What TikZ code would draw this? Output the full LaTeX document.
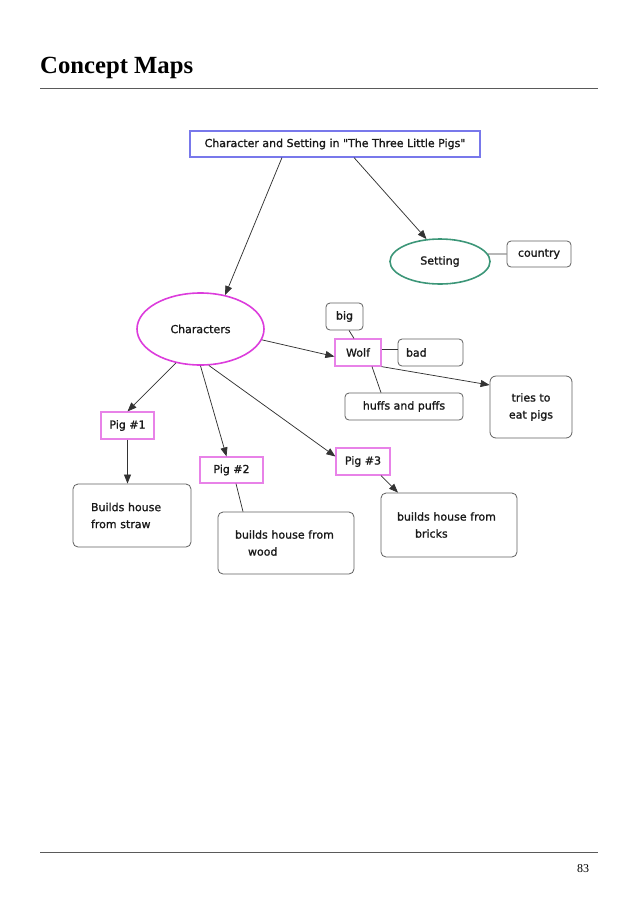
\documentclass[tikz,border=0pt]{standalone}
\usepackage{fontspec}
\setmainfont{Liberation Serif}
\newfontfamily\diagfont[FakeBold=1.2]{DejaVu Sans}
\usetikzlibrary{arrows.meta,shapes.geometric}
\definecolor{topblue}{RGB}{120,120,235}
\definecolor{setgreen}{RGB}{60,150,120}
\definecolor{charmag}{RGB}{220,60,220}
\definecolor{pigpink}{RGB}{232,130,232}
\definecolor{boxgray}{RGB}{95,95,95}
\definecolor{rulegray}{RGB}{90,90,90}
\definecolor{textdark}{RGB}{25,25,25}
\begin{document}
\begin{tikzpicture}[x=1pt,y=-1pt,
  dfont/.style={font=\diagfont\fontsize{11}{17}\selectfont, text=textdark},
  conn/.style={draw=black!80, line width=0.75pt},
  arr/.style={conn, -{Triangle[length=9pt,width=7pt]}},
  rbox/.style={dfont, draw=boxgray, line width=0.8pt, rounded corners=4pt, inner sep=0pt, align=center},
  lbox/.style={dfont, draw=boxgray, line width=0.8pt, rounded corners=5pt, inner ysep=0pt, align=left},
  pbox/.style={dfont, draw=pigpink, line width=1.2pt, inner sep=0pt, align=center},
  rulestyle/.style={draw=rulegray, line width=0.9pt}
]
\useasboundingbox (0,0) rectangle (638,903);
% page furniture
\node[anchor=base west, inner sep=0pt, font=\bfseries\fontsize{24.7}{28}\selectfont] (title) at (40,73) {Concept Maps};
\coordinate (r1a) at (40,88);
\coordinate (r1b) at (598,88);
\draw[rulestyle] (r1a) -- (r1b);
\coordinate (r2a) at (40,852);
\coordinate (r2b) at (598,852);
\draw[rulestyle] (r2a) -- (r2b);
\node[anchor=base, inner sep=0pt, font=\fontsize{12}{14}\selectfont] (pagenum) at (583,872) {83};

% diagram nodes
\node[dfont, draw=topblue, line width=1.1pt, minimum width=290pt, minimum height=26pt, inner sep=0pt] (top) at (335,144) {Character and Setting in "The Three Little Pigs"};
\node[dfont, ellipse, draw=setgreen, line width=1.6pt, minimum width=100pt, minimum height=45pt, inner sep=0pt] (setting) at (440,261.5) {Setting};
\node[rbox, minimum width=64pt, minimum height=26pt] (country) at (539,254) {country};
\node[dfont, ellipse, draw=charmag, line width=1.6pt, minimum width=127pt, minimum height=72pt, inner sep=0pt] (char) at (200.5,329) {Characters};

\node[rbox, minimum width=37pt, minimum height=27pt] (big) at (344.5,316.5) {big};
\node[pbox, minimum width=46pt, minimum height=27pt] (wolf) at (358,352.5) {Wolf};
\node[rbox, minimum width=65pt, minimum height=27pt, text width=49pt, align=left] (bad) at (430.5,352.5) {bad};
\node[rbox, minimum width=118pt, minimum height=27pt] (huffs) at (404,406.5) {huffs and puffs};
\node[rbox, minimum width=82pt, minimum height=62pt, rounded corners=6pt] (tries) at (531,407) {tries to\\eat pigs};

\node[pbox, minimum width=53pt, minimum height=27pt] (pig1) at (127.5,425.5) {Pig \#1};
\node[pbox, minimum width=63pt, minimum height=26pt] (pig2) at (231.5,470) {Pig \#2};
\node[pbox, minimum width=54pt, minimum height=27pt] (pig3) at (363,461.5) {Pig \#3};

\node[lbox, inner xsep=18pt, text width=82pt, minimum height=63pt] (straw) at (132,515.5) {Builds house\\from straw};
\node[lbox, inner xsep=17pt, text width=102pt, minimum height=62pt] (wood) at (286,543) {builds house from\\\hspace*{13pt}wood};
\node[lbox, inner xsep=16pt, text width=104pt, minimum height=64pt] (bricks) at (449,525) {builds house from\\\hspace*{18pt}bricks};

% connectors
\draw[arr] ([xshift=-53pt]top.south) -- (char.54);
\draw[arr] ([xshift=19pt]top.south) -- (setting.121);
\draw[conn] (setting.9) -- (country.west);

\draw[arr] (char.-10) -- ([yshift=-4pt]wolf.west);
\draw[conn] ([xshift=4.5pt]big.south) -- ([xshift=-4pt]wolf.north);
\draw[conn] ([yshift=3pt]wolf.east) -- ([yshift=3pt]bad.west);
\draw[conn] ([xshift=14pt]wolf.south) -- ([xshift=-23pt]huffs.north);
\draw[arr] (wolf.south east) -- ([yshift=22pt]tries.west);

\draw[arr] (char.234) -- (pig1.north);
\draw[arr] (char.south) -- ([xshift=-5pt]pig2.north);
\draw[arr] (char.283) -- ([yshift=5pt]pig3.west);

\draw[arr] (pig1.south) -- (pig1.south |- straw.north);
\draw[conn] ([xshift=4.5pt]pig2.south) -- ([xshift=-43pt]wood.north);
\draw[arr] ([xshift=18pt]pig3.south) -- ([xshift=-51pt]bricks.north);
\end{tikzpicture}
\end{document}
